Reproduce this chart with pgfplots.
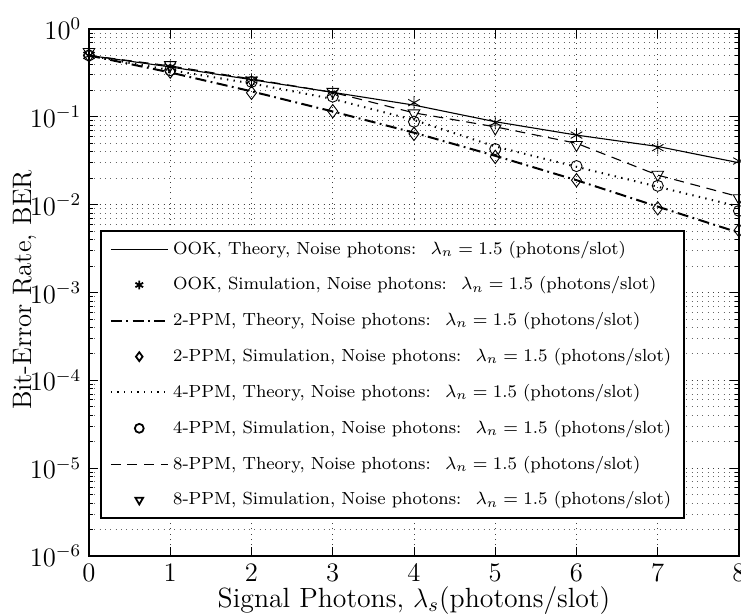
\documentclass[border=0pt]{standalone}
\usepackage{pgfplots}
\pgfplotsset{compat=1.18}
\begin{document}
\begin{tikzpicture}
\begin{axis}[
  scale only axis,
  width=292.5pt, height=237.15pt,
  ymode=log,
  xmin=0, xmax=8, ymin=1e-6, ymax=1,
  xtick={0,1,2,3,4,5,6,7,8},
  ytick={1e-6,1e-5,1e-4,1e-3,1e-2,1e-1,1},
  xmajorgrids, ymajorgrids, yminorgrids,
  grid style={dotted, black!75},
  minor grid style={dotted, black!60},
  major tick length=4pt, minor tick length=2pt,
  axis line style={line width=0.8pt},
  tick style={black, line width=0.4pt},
  tick label style={font=\fontsize{12}{14}\selectfont},
  every axis y label/.style={at={(axis description cs:-0.099,0.505)},rotate=90,anchor=center,font=\fontsize{12}{14}\selectfont},
  every axis x label/.style={at={(axis description cs:0.5,-0.0845)},anchor=center,font=\fontsize{12.5}{14}\selectfont},
  xlabel={Signal Photons, $\lambda_s$(photons/slot)},
  ylabel={Bit-Error Rate, BER},
  legend cell align=left,
  legend style={at={(axis description cs:0.017,0.6186)}, anchor=north west,
    font=\fontsize{7.9}{9.5}\selectfont, draw=black, line width=0.8pt, row sep=4.7pt,
    inner xsep=4pt, inner ysep=2.5pt, nodes={line width=0.4pt}},
  legend image post style={mark size=2pt},
  legend image code/.code={\draw[mark repeat=2,mark phase=2,#1] plot coordinates {(0cm,0cm) (0.45cm,0cm) (0.9cm,0cm)};},
]
% OOK
\addplot[black, line width=0.5pt] coordinates {(0,0.5) (1,0.37) (2,0.265) (3,0.19) (4,0.136) (5,0.088) (6,0.062) (7,0.046) (8,0.030)};
\addplot[black, only marks, mark=asterisk, mark size=3pt] coordinates {(0,0.5) (1,0.37) (2,0.263) (3,0.187) (4,0.145) (5,0.086) (6,0.062) (7,0.0446) (8,0.0314)};
% 2-PPM
\addplot[black, line width=0.9pt, dash pattern=on 5pt off 2pt on 0.8pt off 2pt] coordinates {(0,0.5) (1,0.32) (2,0.195) (3,0.115) (4,0.066) (5,0.036) (6,0.019) (7,0.0095) (8,0.0048)};
\addplot[black, only marks, mark=diamond, mark size=3pt] coordinates {(0,0.5) (1,0.327) (2,0.188) (3,0.116) (4,0.064) (5,0.035) (6,0.019) (7,0.0091) (8,0.0051)};
% 4-PPM
\addplot[black, line width=0.9pt, dash pattern=on 0.6pt off 2.4pt] coordinates {(0,0.5) (1,0.34) (2,0.24) (3,0.16) (4,0.092) (5,0.046) (6,0.027) (7,0.016) (8,0.0095)};
\addplot[black, only marks, mark=o, mark size=2.5pt] coordinates {(0,0.5) (1,0.34) (2,0.25) (3,0.17) (4,0.088) (5,0.043) (6,0.0275) (7,0.0164) (8,0.0085)};
% 8-PPM
\addplot[black, line width=0.5pt, dash pattern=on 4.5pt off 3pt] coordinates {(0,0.5) (1,0.38) (2,0.27) (3,0.19) (4,0.111) (5,0.077) (6,0.05) (7,0.0217) (8,0.0123)};
\addplot[black, only marks, mark=triangle, mark size=3pt, mark options={rotate=180}] coordinates {(0,0.55) (1,0.39) (2,0.26) (3,0.193) (4,0.11) (5,0.074) (6,0.048) (7,0.022) (8,0.0119)};
\legend{
{OOK, Theory, Noise photons:~ $\lambda_n=1.5$ (photons/slot)},
{OOK, Simulation, Noise photons:~ $\lambda_n=1.5$ (photons/slot)},
{2-PPM, Theory, Noise photons:~ $\lambda_n=1.5$ (photons/slot)},
{2-PPM, Simulation, Noise photons:~ $\lambda_n=1.5$ (photons/slot)},
{4-PPM, Theory, Noise photons:~ $\lambda_n=1.5$ (photons/slot)},
{4-PPM, Simulation, Noise photons:~ $\lambda_n=1.5$ (photons/slot)},
{8-PPM, Theory, Noise photons:~ $\lambda_n=1.5$ (photons/slot)},
{8-PPM, Simulation, Noise photons:~ $\lambda_n=1.5$ (photons/slot)}}
\end{axis}
\pgfresetboundingbox
\path[use as bounding box] (-40.05pt,-26.1pt) rectangle (293.4pt,250.2pt);
\end{tikzpicture}
\end{document}
